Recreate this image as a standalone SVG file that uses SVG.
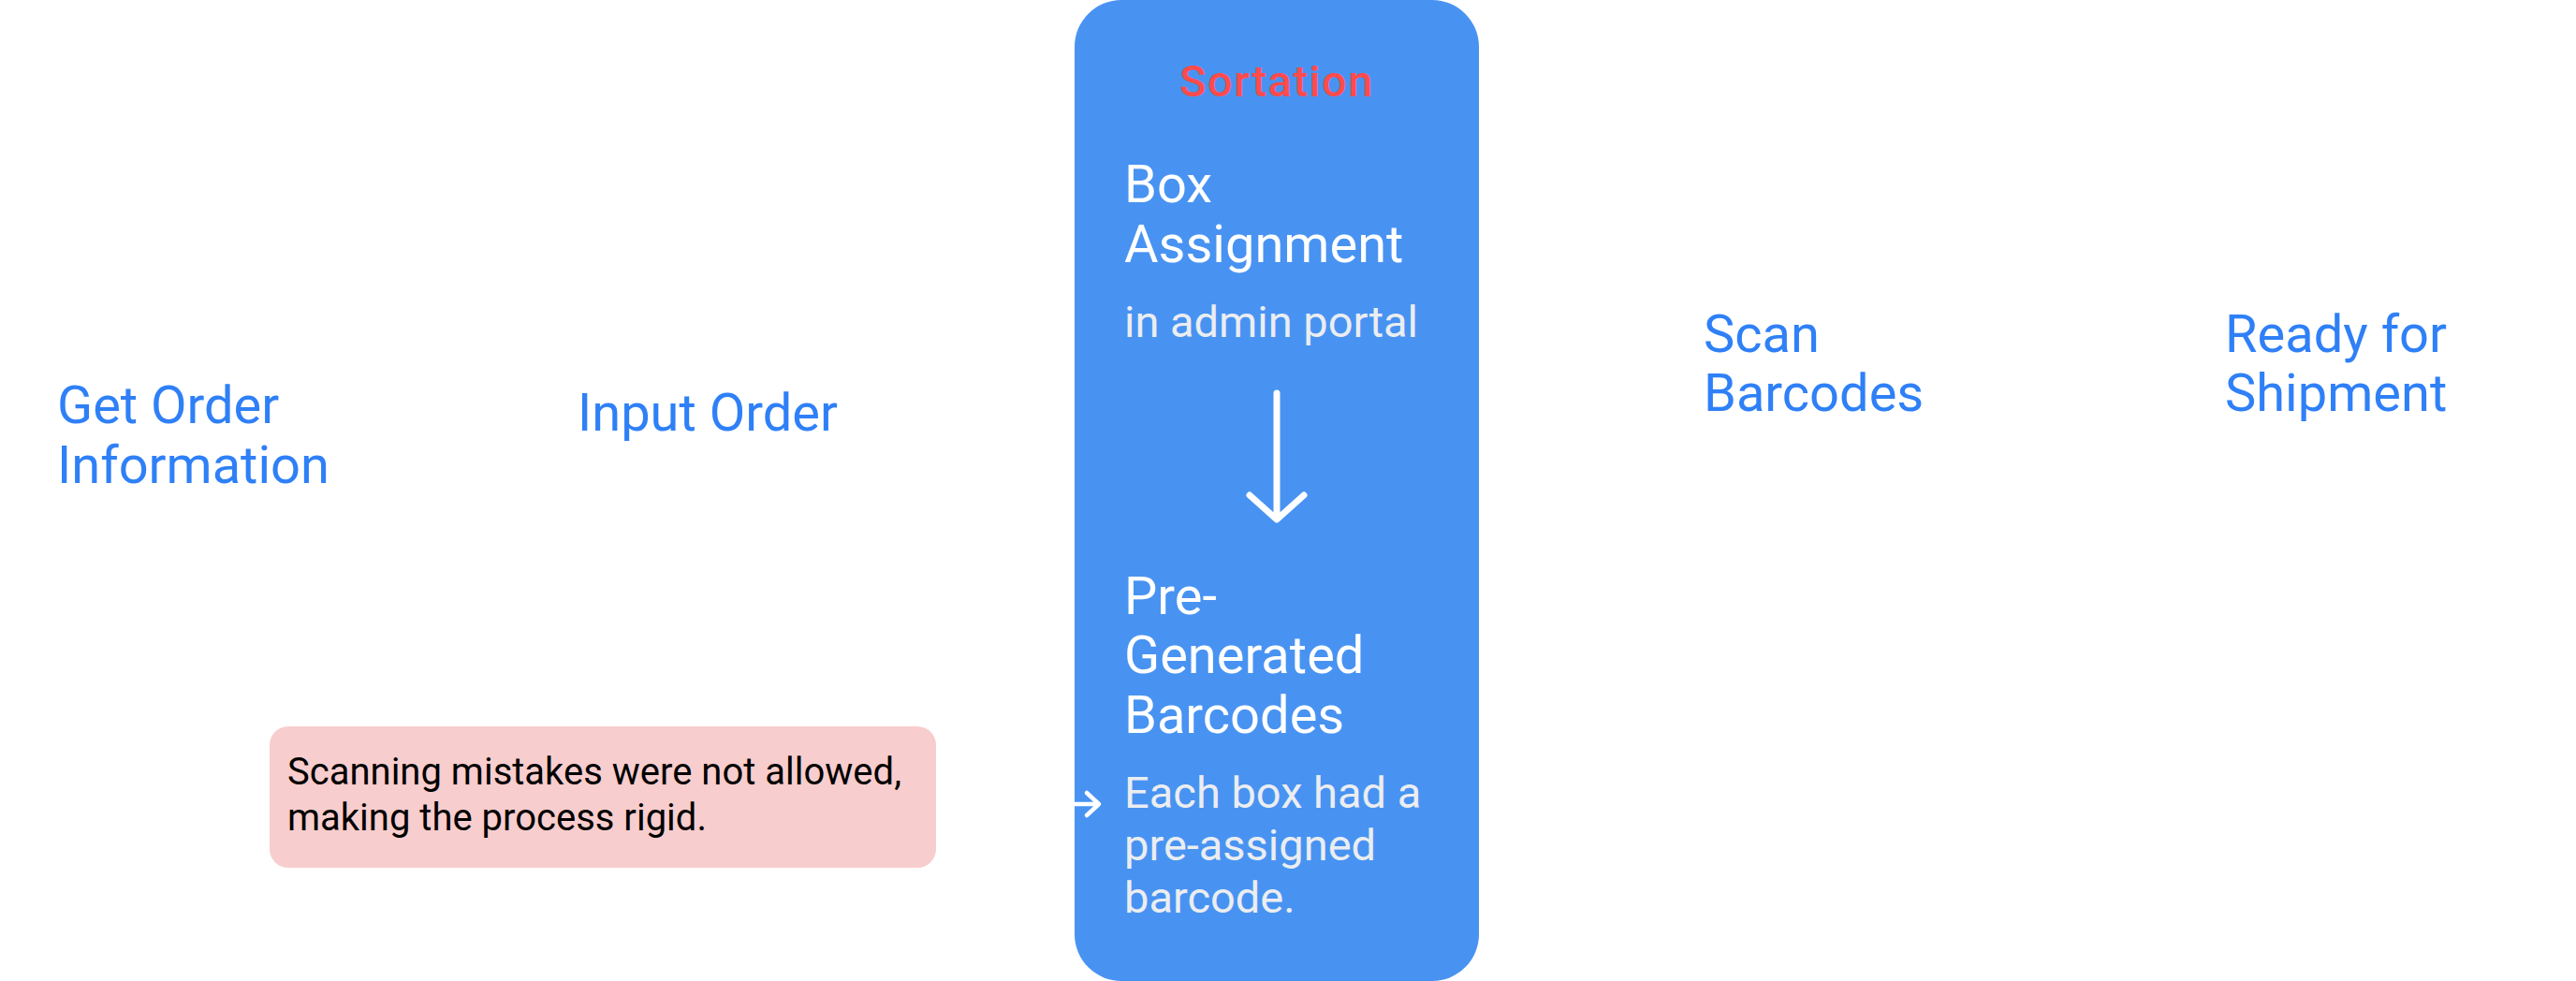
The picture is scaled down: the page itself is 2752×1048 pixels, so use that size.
<svg xmlns="http://www.w3.org/2000/svg" width="2752" height="1048" viewBox="0 0 2752 1048">
<style>
.title{font-family:Roboto,"Liberation Sans",sans-serif;font-size:56px;fill:#2F80F7}
.desc{font-family:Roboto,"Liberation Sans",sans-serif;font-size:47px;fill:#FFFFFF}
.wtitle{font-family:Roboto,"Liberation Sans",sans-serif;font-size:56px;fill:#FFFFFF}
.wdesc{font-family:Roboto,"Liberation Sans",sans-serif;font-size:47px;fill:#EBEDF0}
.note{font-family:Roboto,"Liberation Sans",sans-serif;font-size:40px;fill:#000000}
.conn{fill:none;stroke:#FFFFFF;stroke-linecap:round;stroke-linejoin:round}
</style>
<rect width="2752" height="1048" fill="#FFFFFF"/>
<g id="node-get-order">
<text class="title" x="61" y="452">Get Order</text>
<text class="title" x="61" y="516">Information</text>
<text class="desc" x="62" y="595">From client via</text>
<text class="desc" x="62" y="650">email</text>
</g>
<g id="node-input-order">
<text class="title" x="617" y="460">Input Order</text>
<text class="desc" x="619" y="538">Orders were</text>
<text class="desc" x="619" y="594">created by</text>
<text class="desc" x="619" y="649">supervisor</text>
</g>
<g id="node-sortation">
<rect x="1148" y="0" width="432" height="1048" rx="50" ry="50" fill="#4893F2"/>
<text x="1364" y="103" text-anchor="middle" font-family="Roboto,'Liberation Sans',sans-serif" font-size="47" font-weight="500" letter-spacing="1.5" fill="#FF4B4B">Sortation</text>
<text class="wtitle" x="1201" y="216">Box</text>
<text class="wtitle" x="1201" y="280">Assignment</text>
<text class="wdesc" x="1201" y="360">in admin portal</text>
<text class="wtitle" x="1201" y="656">Pre-</text>
<text class="wtitle" x="1201" y="719">Generated</text>
<text class="wtitle" x="1201" y="783">Barcodes</text>
<text class="wdesc" x="1201" y="863">Each box had a</text>
<text class="wdesc" x="1201" y="919">pre-assigned</text>
<text class="wdesc" x="1201" y="975">barcode.</text>
</g>
<g id="node-scan-barcodes">
<text class="title" x="1820" y="376">Scan</text>
<text class="title" x="1820" y="439">Barcodes</text>
<text class="desc" x="1824" y="518">Orders were</text>
<text class="desc" x="1824" y="574">packaged and</text>
<text class="desc" x="1824" y="630">scanned by</text>
<text class="desc" x="1824" y="686">the worker and</text>
<text class="desc" x="1824" y="742">sorted.</text>
</g>
<g id="node-ready">
<text class="title" x="2377" y="376">Ready for</text>
<text class="title" x="2377" y="439">Shipment</text>
<text class="desc" x="2380" y="518">Orders were</text>
<text class="desc" x="2380" y="574">verified</text>
<text class="desc" x="2380" y="630">automatically</text>
<text class="desc" x="2380" y="686">and ready for</text>
<text class="desc" x="2380" y="742">shipment.</text>
</g>
<g id="note-rigid">
<rect x="288" y="776" width="712" height="151" rx="20" ry="20" fill="#F8CDCD"/>
<text class="note" x="307" y="838">Scanning mistakes were not allowed,</text>
<text class="note" x="307" y="887">making the process rigid.</text>
</g>
<g id="connectors">
<path class="conn" stroke-width="7" d="M1364 420 V554 M1335 529 L1364 555 L1393 529"/>
<path class="conn" stroke-width="4.5" d="M1148 859 H1173 M1161 847 L1174 859 L1161 871"/>
<path class="conn" stroke-width="4" d="M536 520 H584 M572 506 L586 520 L572 534"/>
<path class="conn" stroke-width="4" d="M1070 520 H1118 M1106 506 L1120 520 L1106 534"/>
<path class="conn" stroke-width="4" d="M1740 520 H1788 M1776 506 L1790 520 L1776 534"/>
<path class="conn" stroke-width="4" d="M2297 520 H2345 M2333 506 L2347 520 L2333 534"/>
</g>
</svg>
